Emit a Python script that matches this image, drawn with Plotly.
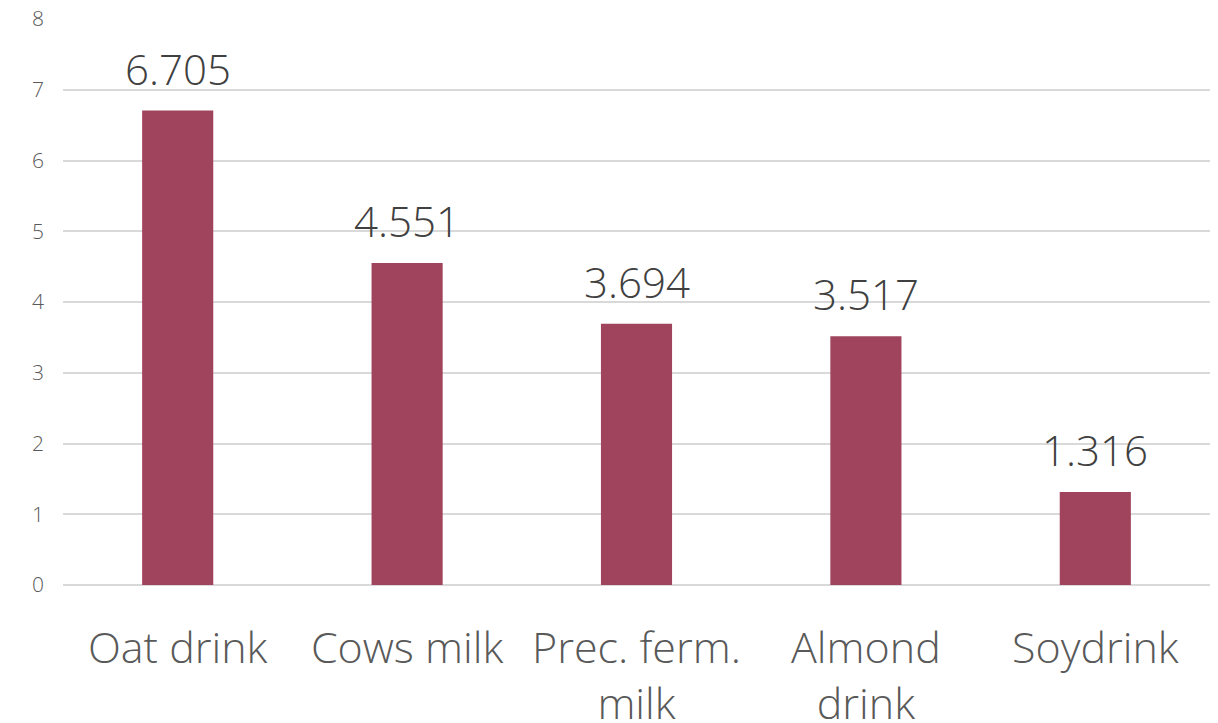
import plotly.graph_objects as go

categories = ["Oat drink", "Cows milk", "Prec. ferm.<br>milk", "Almond<br>drink", "Soydrink"]
values = [6.705, 4.551, 3.694, 3.517, 1.316]
value_labels = ["6.705", "4.551", "3.694", "3.517", "1.316"]

bar_color = "#A0435C"
text_color = "#404040"
tick_color = "#595959"
grid_color = "#D9D9D9"
font_family = "Open Sans"

fig = go.Figure(
    go.Bar(
        x=categories,
        y=values,
        marker=dict(color=bar_color, line=dict(width=0)),
        hoverinfo="x+y",
    )
)

# value labels sit a little above each bar
for cat, val, lab in zip(categories, values, value_labels):
    fig.add_annotation(
        x=cat,
        y=val,
        text=lab,
        showarrow=False,
        yanchor="bottom",
        yshift=12,
        font=dict(family=font_family, size=42, color=text_color, weight=300),
    )

fig.update_layout(
    width=1218,
    height=723,
    margin=dict(l=63, r=8, t=19, b=138),
    paper_bgcolor="white",
    plot_bgcolor="white",
    bargap=0.69,
    showlegend=False,
    font=dict(family=font_family, weight=300),
)

fig.update_yaxes(
    range=[0, 8],
    dtick=1,
    showgrid=True,
    gridcolor=grid_color,
    gridwidth=1.5,
    zeroline=True,
    zerolinecolor=grid_color,
    zerolinewidth=1.5,
    showline=False,
    ticks="",
    automargin=False,
    ticklabelstandoff=18,
    tickfont=dict(family=font_family, size=21, color=tick_color, weight=300),
)

fig.update_xaxes(
    showgrid=False,
    showline=False,
    ticks="",
    automargin=False,
    ticklabelstandoff=34,
    tickfont=dict(family=font_family, size=43, color=tick_color, weight=300),
)

fig.write_html("out.html")
